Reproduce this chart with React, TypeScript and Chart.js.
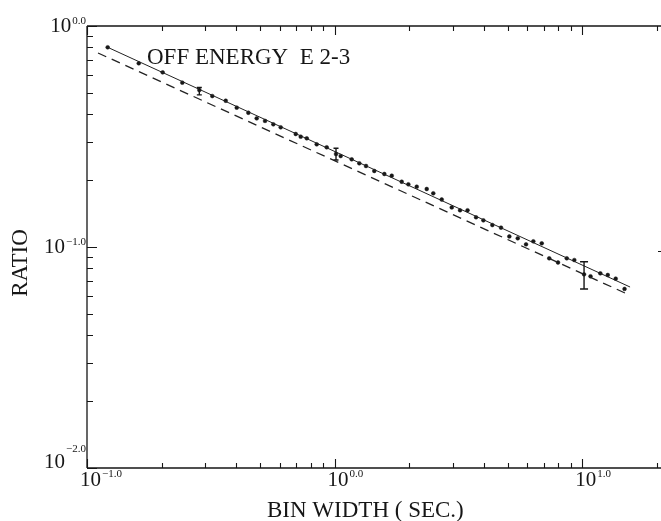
import React, { useEffect, useRef } from "react";
import { Chart, registerables } from "chart.js";

Chart.register(...registerables);

// Measured ratio points (bin width in seconds, ratio)
const ptX = [0.1212, 0.1618, 0.2021, 0.2426, 0.2842, 0.3206, 0.3633, 0.4024, 0.4483, 0.4845, 0.5235, 0.5656, 0.6057, 0.6965, 0.7296, 0.7717, 0.8466, 0.929, 1.013, 1.058, 1.172, 1.258, 1.339, 1.446, 1.588, 1.701, 1.866, 1.985, 2.146, 2.355, 2.503, 2.707, 2.972, 3.21, 3.442, 3.725, 3.988, 4.335, 4.699, 5.077, 5.49, 5.93, 6.346, 6.862, 7.357, 7.984, 8.66, 9.29, 10.17, 10.8, 11.83, 12.68, 13.65, 14.82];
const ptY = [0.801, 0.678, 0.617, 0.554, 0.513, 0.482, 0.459, 0.427, 0.405, 0.382, 0.372, 0.359, 0.348, 0.3246, 0.3155, 0.3103, 0.2915, 0.2826, 0.2635, 0.258, 0.2493, 0.2392, 0.2326, 0.2208, 0.214, 0.2102, 0.1974, 0.1922, 0.1874, 0.183, 0.175, 0.164, 0.151, 0.1466, 0.1466, 0.1363, 0.132, 0.1257, 0.1223, 0.1116, 0.1095, 0.1028, 0.1061, 0.1039, 0.0889, 0.0851, 0.0889, 0.0873, 0.0752, 0.0737, 0.076, 0.0747, 0.0719, 0.0646];

// Solid fit line
const fitX = [0.1212, 15.6];
const fitY = [0.801, 0.0659];

// Dashed reference line
const refX = [0.1108, 14.89];
const refY = [0.7548, 0.0619];

// Error bars
const errX = [0.2842, 1.013, 10.17];
const errLo = [0.488, 0.2475, 0.0646];
const errHi = [0.527, 0.2797, 0.0858];

// Axis ticks and labels
const xMajor = [0.1, 1, 10];
const xMajorExp = ["\u22121.0", "0.0", "1.0"];
const yMajor = [1, 0.1, 0.01];
const yMajorExp = ["0.0", "\u22121.0", "\u22122.0"];

const titleText = "OFF ENERGY  E 2-3";
const xTitle = "BIN WIDTH ( SEC.)";
const yTitle = "RATIO";

const X_MIN = 0.1;
const X_MAX = 20.8;
const Y_MIN = 0.01;
const Y_MAX = 1;

const SERIF = '"Liberation Serif", "DejaVu Serif", serif';
const INK = "#161616";

function minorTicks(lo: number, hi: number): number[] {
  const out: number[] = [];
  for (let d = lo; d < hi * 1.0001; d *= 10) {
    for (let m = 2; m <= 9; m++) {
      const v = d * m;
      if (v <= hi * 1.0001) out.push(v);
    }
  }
  return out;
}

const decor = {
  id: "decor",
  afterDraw(chart: any) {
    const ctx = chart.ctx as CanvasRenderingContext2D;
    const xs = chart.scales.x;
    const ys = chart.scales.y;
    const a = chart.chartArea;
    ctx.save();
    ctx.strokeStyle = INK;
    ctx.fillStyle = INK;

    // frame (left, top, bottom; right axis lies beyond the crop)
    ctx.lineWidth = 1.3;
    ctx.beginPath();
    ctx.moveTo(a.left, a.top);
    ctx.lineTo(a.left, a.bottom);
    ctx.moveTo(a.left, a.top);
    ctx.lineTo(a.right, a.top);
    ctx.moveTo(a.left, a.bottom);
    ctx.lineTo(a.right, a.bottom);
    ctx.stroke();

    // x ticks (inward, top and bottom)
    ctx.lineWidth = 1.1;
    const xMinor = minorTicks(0.1, X_MAX);
    ctx.beginPath();
    for (const v of xMinor) {
      const px = Math.round(xs.getPixelForValue(v)) + 0.5;
      ctx.moveTo(px, a.bottom);
      ctx.lineTo(px, a.bottom - 5);
      ctx.moveTo(px, a.top);
      ctx.lineTo(px, a.top + 5);
    }
    for (const v of xMajor) {
      const px = Math.round(xs.getPixelForValue(v)) + 0.5;
      ctx.moveTo(px, a.bottom);
      ctx.lineTo(px, a.bottom - 9);
      ctx.moveTo(px, a.top);
      ctx.lineTo(px, a.top + 9);
    }
    // y ticks (inward, left)
    const yMinor = minorTicks(0.01, 1);
    for (const v of yMinor) {
      const py = Math.round(ys.getPixelForValue(v)) + 0.5;
      ctx.moveTo(a.left, py);
      ctx.lineTo(a.left + 6, py);
    }
    for (const v of yMajor) {
      const py = Math.round(ys.getPixelForValue(v)) + 0.5;
      ctx.moveTo(a.left, py);
      ctx.lineTo(a.left + 10, py);
    }
    // fragment of the right-axis major tick at 10^-1
    const pyMid = Math.round(ys.getPixelForValue(0.1)) + 0.5;
    ctx.moveTo(a.right, pyMid + 4);
    ctx.lineTo(a.right - 3, pyMid + 4);
    ctx.stroke();

    // error bars
    ctx.lineWidth = 1.4;
    ctx.beginPath();
    errX.forEach((x, i) => {
      const px = xs.getPixelForValue(x);
      const p1 = ys.getPixelForValue(errHi[i]);
      const p2 = ys.getPixelForValue(errLo[i]);
      const cap = i === 2 ? 4 : 2.5;
      ctx.moveTo(px, p1);
      ctx.lineTo(px, p2);
      ctx.moveTo(px - cap, p1);
      ctx.lineTo(px + cap, p1);
      ctx.moveTo(px - cap, p2);
      ctx.lineTo(px + cap, p2);
    });
    ctx.stroke();

    // x tick labels
    ctx.textBaseline = "alphabetic";
    xMajor.forEach((v, i) => {
      const px = xs.getPixelForValue(v);
      ctx.textAlign = "left";
      ctx.font = `21px ${SERIF}`;
      const x0 = px - 7;
      ctx.fillText("10", x0, a.bottom + 18);
      const w = ctx.measureText("10").width;
      ctx.font = `11px ${SERIF}`;
      ctx.fillText(xMajorExp[i], x0 + w + 1, a.bottom + 9);
    });

    // y tick labels
    yMajor.forEach((v, i) => {
      const py = ys.getPixelForValue(v);
      const base = i === 2 ? py : py + 6;
      ctx.font = `11px ${SERIF}`;
      ctx.textAlign = "right";
      const sup = yMajorExp[i];
      const sw = ctx.measureText(sup).width;
      ctx.fillText(sup, a.left - 1, base - (i === 2 ? 16 : 8));
      ctx.font = `21px ${SERIF}`;
      ctx.fillText("10", a.left - 2 - sw, base);
    });

    // in-plot title
    ctx.textAlign = "left";
    ctx.font = `23px ${SERIF}`;
    ctx.fillText(titleText, 147, 64);

    // x axis title
    ctx.font = `23px ${SERIF}`;
    ctx.fillText(xTitle, 267, 517);

    // y axis title
    ctx.save();
    ctx.translate(27, 263);
    ctx.rotate(-Math.PI / 2);
    ctx.textAlign = "center";
    ctx.fillText(yTitle, 0, 0);
    ctx.restore();

    ctx.restore();
  },
};

export default function App() {
  const ref = useRef<HTMLCanvasElement>(null);
  useEffect(() => {
    if (!ref.current) return;
    const chart = new Chart(ref.current, {
      type: "scatter",
      data: {
        datasets: [
          {
            data: fitX.map((x, i) => ({ x, y: fitY[i] })),
            showLine: true,
            borderColor: "#222",
            borderWidth: 1,
            pointRadius: 0,
          },
          {
            data: refX.map((x, i) => ({ x, y: refY[i] })),
            showLine: true,
            borderColor: "#222",
            borderWidth: 1.3,
            borderDash: [9, 6],
            pointRadius: 0,
          },
          {
            data: ptX.map((x, i) => ({ x, y: ptY[i] })),
            showLine: false,
            pointStyle: "circle",
            pointRadius: 1.9,
            pointBackgroundColor: INK,
            pointBorderColor: INK,
            pointBorderWidth: 0.5,
          },
        ],
      },
      options: {
        responsive: false,
        devicePixelRatio: 1,
        animation: false,
        events: [],
        layout: { autoPadding: false, padding: { left: 87, right: 0, top: 26, bottom: 53 } },
        plugins: { legend: { display: false }, tooltip: { enabled: false } },
        scales: {
          x: { type: "logarithmic", min: X_MIN, max: X_MAX, display: false },
          y: { type: "logarithmic", min: Y_MIN, max: Y_MAX, display: false },
        },
      },
      plugins: [decor],
    });
    return () => chart.destroy();
  }, []);
  return (
    <div
      style={{
        position: "fixed",
        left: 0,
        top: 0,
        width: 661,
        height: 521,
        overflow: "hidden",
        background: "#fff",
      }}
    >
      <canvas
        ref={ref}
        width={661}
        height={521}
        style={{ display: "block", width: 661, height: 521 }}
      />
    </div>
  );
}
